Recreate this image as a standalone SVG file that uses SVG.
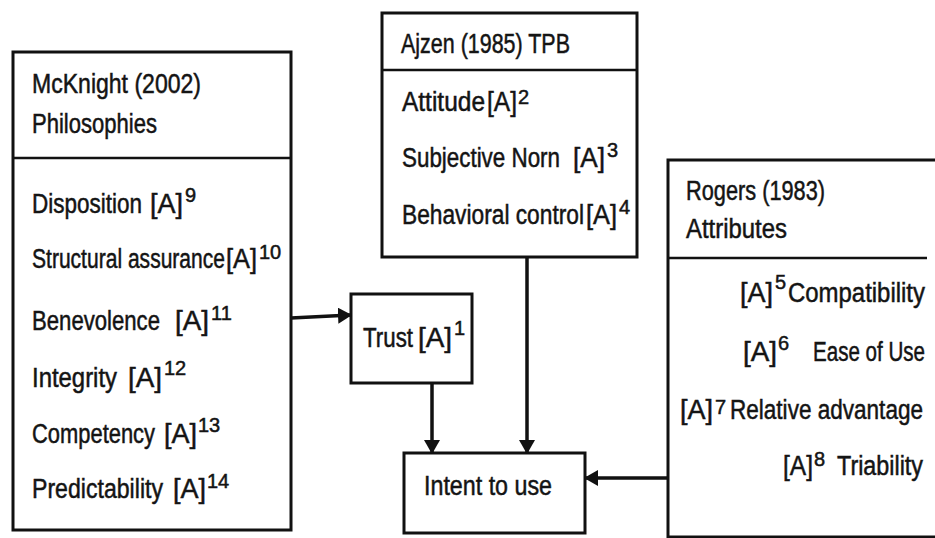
<svg xmlns="http://www.w3.org/2000/svg" width="935" height="538" viewBox="0 0 935 538">
<defs>
<style>
.box{fill:#fff;stroke:#111;stroke-width:3}
.div{stroke:#111;stroke-width:2.5}
text{font-family:"Liberation Sans",Arial,sans-serif;fill:#141414;stroke:#141414;stroke-width:0.5}
.t{font-size:27px}
.s{font-size:20px}
.c{stroke:#111;stroke-width:3.5;fill:none}
</style>
<marker id="ah" markerUnits="userSpaceOnUse" markerWidth="14" markerHeight="16" refX="13" refY="8" orient="auto">
<path d="M0,0 L14,8 L0,16 z" fill="#111"/>
</marker>
</defs>
<rect width="935" height="538" fill="#fff"/>

<g id="mcknight">
<rect class="box" x="13" y="52" width="278" height="478"/>
<line class="div" x1="13" y1="158" x2="291" y2="158"/>
<text class="t" x="32" y="93" textLength="169" lengthAdjust="spacingAndGlyphs">McKnight (2002)</text>
<text class="t" x="32" y="133" textLength="125" lengthAdjust="spacingAndGlyphs">Philosophies</text>
<text class="t" x="32" y="213" textLength="110" lengthAdjust="spacingAndGlyphs">Disposition</text>
<text class="t" x="150" y="213" textLength="33" lengthAdjust="spacingAndGlyphs">[A]</text>
<text class="s" x="185" y="202">9</text>
<text class="t" x="32" y="268" textLength="193" lengthAdjust="spacingAndGlyphs">Structural assurance</text>
<text class="t" x="226" y="268" textLength="31" lengthAdjust="spacingAndGlyphs">[A]</text>
<text class="s" x="259" y="259">10</text>
<text class="t" x="32" y="330" textLength="128" lengthAdjust="spacingAndGlyphs">Benevolence</text>
<text class="t" x="175" y="330" textLength="34" lengthAdjust="spacingAndGlyphs">[A]</text>
<text class="s" x="211" y="320">11</text>
<text class="t" x="32" y="387" textLength="85" lengthAdjust="spacingAndGlyphs">Integrity</text>
<text class="t" x="128" y="387" textLength="34" lengthAdjust="spacingAndGlyphs">[A]</text>
<text class="s" x="164" y="375">12</text>
<text class="t" x="32" y="443" textLength="123" lengthAdjust="spacingAndGlyphs">Competency</text>
<text class="t" x="164" y="443" textLength="33" lengthAdjust="spacingAndGlyphs">[A]</text>
<text class="s" x="198" y="432">13</text>
<text class="t" x="32" y="498" textLength="131" lengthAdjust="spacingAndGlyphs">Predictability</text>
<text class="t" x="173" y="498" textLength="33" lengthAdjust="spacingAndGlyphs">[A]</text>
<text class="s" x="207" y="488">14</text>
</g>

<g id="ajzen">
<rect class="box" x="382" y="13" width="255" height="244"/>
<line class="div" x1="382" y1="70" x2="637" y2="70"/>
<text class="t" x="401" y="53" textLength="169" lengthAdjust="spacingAndGlyphs">Ajzen (1985) TPB</text>
<text class="t" x="402" y="111" textLength="83" lengthAdjust="spacingAndGlyphs">Attitude</text>
<text class="t" x="487" y="111" textLength="30" lengthAdjust="spacingAndGlyphs">[A]</text>
<text class="s" x="518" y="104">2</text>
<text class="t" x="402" y="167" textLength="158" lengthAdjust="spacingAndGlyphs">Subjective Norn</text>
<text class="t" x="573" y="167" textLength="32" lengthAdjust="spacingAndGlyphs">[A]</text>
<text class="s" x="607" y="157">3</text>
<text class="t" x="402" y="224" textLength="182" lengthAdjust="spacingAndGlyphs">Behavioral control</text>
<text class="t" x="586" y="224" textLength="31" lengthAdjust="spacingAndGlyphs">[A]</text>
<text class="s" x="619" y="214">4</text>
</g>

<g id="rogers">
<rect class="box" x="668" y="160" width="290" height="377"/>
<line class="div" x1="668" y1="258" x2="927" y2="258"/>
<text class="t" x="686" y="200" textLength="139" lengthAdjust="spacingAndGlyphs">Rogers (1983)</text>
<text class="t" x="686" y="238" textLength="101" lengthAdjust="spacingAndGlyphs">Attributes</text>
<text class="t" x="740" y="302" textLength="33" lengthAdjust="spacingAndGlyphs">[A]</text>
<text class="s" x="775" y="289">5</text>
<text class="t" x="788" y="302" textLength="137" lengthAdjust="spacingAndGlyphs">Compatibility</text>
<text class="t" x="743" y="361" textLength="34" lengthAdjust="spacingAndGlyphs">[A]</text>
<text class="s" x="778" y="350">6</text>
<text class="t" x="813" y="361" textLength="112" lengthAdjust="spacingAndGlyphs">Ease of Use</text>
<text class="t" x="680" y="419" textLength="33" lengthAdjust="spacingAndGlyphs">[A]</text>
<text class="s" x="715" y="414">7</text>
<text class="t" x="730" y="419" textLength="193" lengthAdjust="spacingAndGlyphs">Relative advantage</text>
<text class="t" x="783" y="475" textLength="30" lengthAdjust="spacingAndGlyphs">[A]</text>
<text class="s" x="814" y="466">8</text>
<text class="t" x="837" y="475" textLength="86" lengthAdjust="spacingAndGlyphs">Triability</text>
</g>

<g id="trust">
<rect class="box" x="351" y="294" width="121" height="89"/>
<text class="t" x="363" y="347" textLength="50" lengthAdjust="spacingAndGlyphs">Trust</text>
<text class="t" x="418" y="347" textLength="34" lengthAdjust="spacingAndGlyphs">[A]</text>
<text class="s" x="454" y="335">1</text>
</g>

<g id="intent">
<rect class="box" x="404" y="453" width="181" height="80"/>
<text class="t" x="424" y="495" textLength="128" lengthAdjust="spacingAndGlyphs">Intent to use</text>
</g>

<g id="connectors">
<line class="c" x1="291" y1="318" x2="351" y2="315" marker-end="url(#ah)"/>
<line class="c" x1="432" y1="383" x2="432" y2="453" marker-end="url(#ah)"/>
<line class="c" x1="527" y1="257" x2="527" y2="453" marker-end="url(#ah)"/>
<line class="c" x1="668" y1="478" x2="585" y2="478" marker-end="url(#ah)"/>
</g>
</svg>
